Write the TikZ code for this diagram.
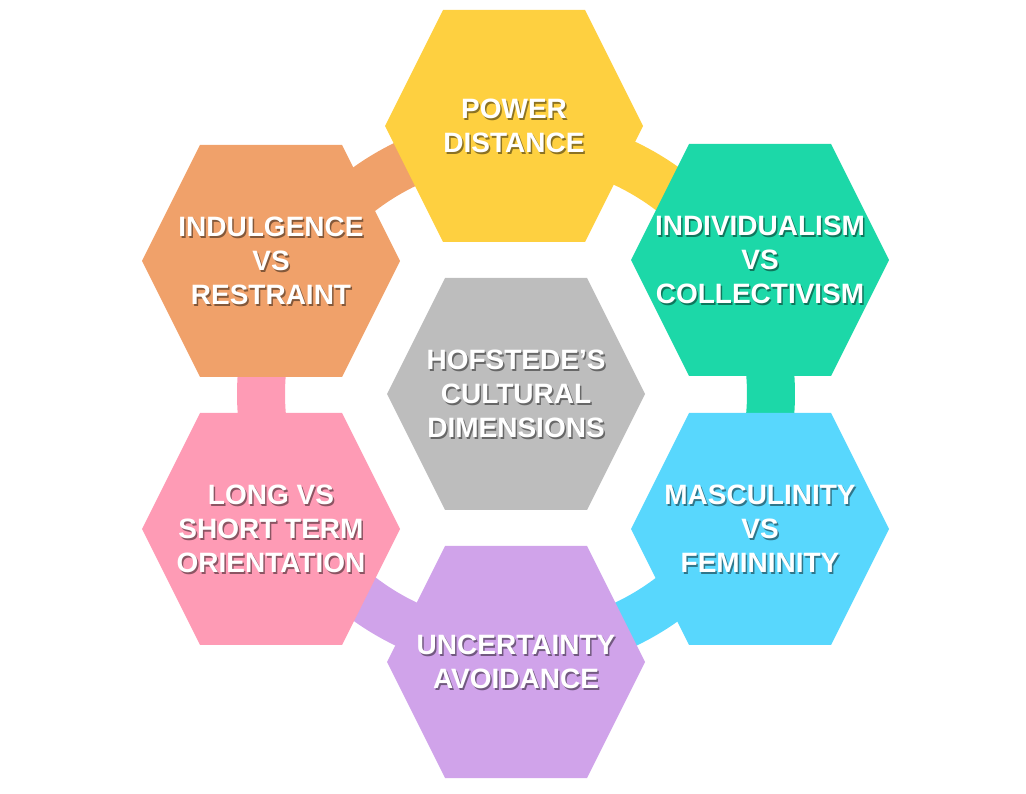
\documentclass[tikz,border=0pt]{standalone}
\usepackage{fontspec}
\setmainfont{Liberation Sans}
\usetikzlibrary{positioning,calc}
\definecolor{hexyellow}{HTML}{FED040}
\definecolor{hexgreen}{HTML}{1CD8A8}
\definecolor{hexblue}{HTML}{58D7FD}
\definecolor{hexpurple}{HTML}{D0A3EA}
\definecolor{hexpink}{HTML}{FE9BB5}
\definecolor{hexorange}{HTML}{F0A16A}
\definecolor{hexgray}{HTML}{BDBDBD}

\begin{document}
\begin{tikzpicture}[x=1pt,y=1pt,
  celltxt/.style={text=white,font=\fontsize{28}{34}\selectfont\bfseries,align=center,inner sep=0pt},
  celldrop/.style={celltxt,text=black,text opacity=0.45},
  band/.style={line width=48pt}]
  \useasboundingbox (0,0) rectangle (1026,793);
  \coordinate (hub) at (516,399);
  % ring behind the cells: each segment takes the colour of the cell it leaves (clockwise)
  \foreach \a/\b/\c in {90/28.7/hexyellow,28.7/-28.7/hexgreen,-28.7/-90/hexblue,
                        -90/-151.3/hexpurple,208.7/151.3/hexpink,151.3/90/hexorange} {
    \draw[band,\c] (hub) ++(\a:255) arc[start angle=\a,end angle=\b,radius=255];
  }
  % cells: name / centre x / centre y / colour / text
  \foreach \n/\x/\y/\c/\t in {pd/514/667/hexyellow/{POWER\\DISTANCE},
                              ic/760/533/hexgreen/{INDIVIDUALISM\\VS\\COLLECTIVISM},
                              mf/760/264/hexblue/{MASCULINITY\\VS\\FEMININITY},
                              ua/516/131/hexpurple/{UNCERTAINTY\\AVOIDANCE},
                              lt/271/264/hexpink/{LONG VS\\SHORT TERM\\ORIENTATION},
                              ir/271/532/hexorange/{INDULGENCE\\VS\\RESTRAINT},
                              hcd/516/399/hexgray/{HOFSTEDE’S\\CULTURAL\\DIMENSIONS}} {
    \fill[\c,shift={(\x,\y)}] (-129,0) -- (-71,116) -- (71,116) -- (129,0)
      -- (71,-116) -- (-71,-116) -- cycle;
    \node[celldrop] (\n-d) at (\x+1.5,\y-1.5) {\t};
    \node[celltxt] (\n) at (\x,\y) {\t};
  }
\end{tikzpicture}
\end{document}
